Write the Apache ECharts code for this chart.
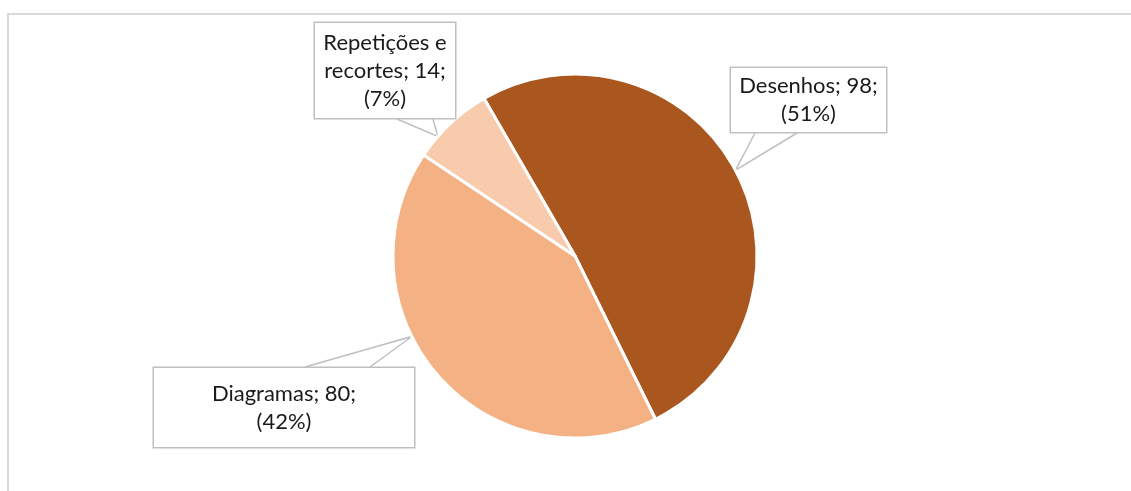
<!DOCTYPE html>
<html>
<head>
<meta charset="utf-8">
<script src="https://cdn.jsdelivr.net/npm/echarts@6/dist/echarts.min.js"></script>
<style>
html,body{margin:0;padding:0;background:#fff;}
#c{width:1131px;height:491px;}
</style>
</head>
<body>
<div id="c"></div>
<script>
const categories = ["Desenhos", "Diagramas", "Repetições e recortes"];
const values = [98, 80, 14];
const colors = ["#A9561F", "#F4B183", "#F8CBAD"];

// presentation-only layout for the callout boxes
const PIE_CX = 575, PIE_CY = 256, PIE_R = 182, START_FROM_TOP = -30; // degrees clockwise from 12 o'clock
const FONT_SIZE = 22, FONT_FAMILY = 'Lato', LINE_H = 28;
const labelBoxes = [
  { cx: 808.5, cy: 100, w: 157, h: 66, tipFrac: 0.5, base: [[755, 133], [797, 133]] },
  { cx: 284, cy: 407.5, w: 262, h: 81, tipFrac: 0.6, base: [[305, 367], [370, 367]] },
  { cx: 385, cy: 70.5, w: 142, h: 97, tipFrac: 0.28, base: [[397, 119], [433, 119]] }
];

const measureCtx = document.createElement('canvas').getContext('2d');
measureCtx.font = FONT_SIZE + 'px ' + FONT_FAMILY;
function wrap(text, maxW) {
  const words = text.split(' ');
  const lines = [];
  let cur = '';
  words.forEach(w => {
    const t = cur ? cur + ' ' + w : w;
    if (cur && measureCtx.measureText(t).width > maxW) { lines.push(cur); cur = w; }
    else cur = t;
  });
  if (cur) lines.push(cur);
  return lines;
}

const total = values.reduce((a, b) => a + b, 0);
let cum = 0;
const tips = values.map(v => {
  const a0 = START_FROM_TOP + 360 * cum / total;
  const span = 360 * v / total;
  cum += v;
  return { a0: a0, span: span };
});

const chart = echarts.init(document.getElementById('c'), null, { renderer: 'canvas' });

const data = categories.map((name, i) => ({
  name: name,
  value: values[i],
  itemStyle: { color: colors[i] },
  label: {
    width: labelBoxes[i].w - 2,
    padding: [0, 0, 0, 0]
  }
}));

chart.setOption({
  animation: false,
  graphic: [{
    type: 'rect',
    shape: { x: 8, y: 14, width: 1200, height: 600 },
    style: { fill: 'none', stroke: '#d9d9d9', lineWidth: 2 },
    silent: true,
    z: -10
  }],
  series: [{
    type: 'pie',
    center: [PIE_CX, PIE_CY],
    radius: [0, PIE_R],
    startAngle: 90 - START_FROM_TOP,
    clockwise: true,
    percentPrecision: 0,
    data: data,
    itemStyle: { borderColor: '#ffffff', borderWidth: 3 },
    label: {
      show: true,
      position: 'outside',
      formatter: function (p) {
        const b = labelBoxes[p.dataIndex];
        const lines = wrap(p.name + '; ' + p.value + ';', b.w - 14);
        lines.push('(' + p.percent + '%)');
        return lines.join('\n');
      },
      fontFamily: FONT_FAMILY,
      fontSize: FONT_SIZE,
      lineHeight: LINE_H,
      color: '#1a1a1a',
      align: 'center',
      overflow: 'none',
      backgroundColor: '#ffffff',
      borderColor: '#bfbfbf',
      borderWidth: 1.5
    },
    labelLine: {
      show: true,
      length: 10,
      length2: 10,
      lineStyle: { color: '#bfbfbf', width: 1.5 }
    },
    labelLayout: function (params) {
      const i = params.dataIndex;
      const b = labelBoxes[i];
      const t = tips[i];
      const th = (t.a0 + t.span * b.tipFrac) * Math.PI / 180;
      const tip = [PIE_CX + PIE_R * Math.sin(th), PIE_CY - PIE_R * Math.cos(th)];
      return {
        x: b.cx, y: b.cy, align: 'center', verticalAlign: 'middle',
        height: b.h - 2,
        labelLinePoints: [b.base[0], tip, b.base[1]]
      };
    },
    emphasis: { disabled: true }
  }]
});
</script>
</body>
</html>
